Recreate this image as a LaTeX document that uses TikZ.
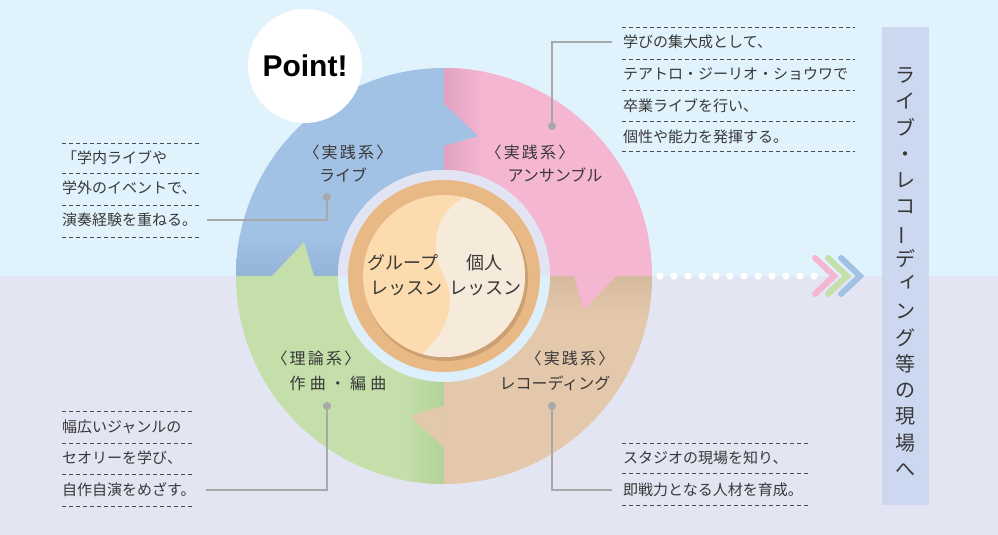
\documentclass[tikz,border=0pt]{standalone}
\usepackage{fontspec}
\setmainfont{Noto Sans CJK JP}
\newfontfamily\pointfont{Liberation Sans}
\usetikzlibrary{calc}
\definecolor{bgTop}{HTML}{E0F2FC}
\definecolor{bgBot}{HTML}{E4E5F3}
\definecolor{qBlue}{HTML}{A1C2E5}
\definecolor{qBlueD}{HTML}{93B3D9}
\definecolor{qPink}{HTML}{F5B6D2}
\definecolor{qPinkD}{HTML}{E0A3C1}
\definecolor{qTan}{HTML}{E3C8AB}
\definecolor{qTanD}{HTML}{D5BA9F}
\definecolor{qGreen}{HTML}{C4DFA9}
\definecolor{qGreenD}{HTML}{B2D299}
\definecolor{haloTop}{HTML}{E3E4F3}
\definecolor{haloBot}{HTML}{DCEFFA}
\definecolor{ringA}{HTML}{E8B885}
\definecolor{peachA}{HTML}{FCDBAE}
\definecolor{creamA}{HTML}{F6EADA}
\definecolor{leadA}{HTML}{A8A8A8}
\definecolor{textA}{HTML}{383838}
\definecolor{tateA}{HTML}{CBD8EF}
\newcommand{\tatebar}{\smash{\rotatebox[origin=c]{90}{ー}}}
\newcommand{\tatesmall}[1]{\hspace*{5pt}\raisebox{5pt}{#1}\hspace*{-5pt}}

\begin{document}
\begin{tikzpicture}[x=1pt, y=1pt, font=\fontsize{15}{18}\selectfont, text=textA,
  lbl/.style={font=\fontsize{16}{19}\selectfont, inner sep=0pt},
  lblw/.style={inner sep=0pt, font=\fontsize{16}{19}\selectfont\addfontfeature{LetterSpace=14}},
  lblx/.style={inner sep=0pt, font=\fontsize{16}{19}\selectfont\addfontfeature{LetterSpace=26}},
  ctr/.style={inner sep=0pt, font=\fontsize{18}{20}\selectfont},
  memo/.style={anchor=west, inner sep=0pt},
  rule/.style={dash pattern=on 4pt off 3pt, black!70, line width=0.8pt},
  lead/.style={leadA, line width=2pt},
  knob/.style={circle, fill=leadA, inner sep=0pt, minimum size=8pt},
  chev/.style={line width=6pt, line cap=round, line join=miter}]
\useasboundingbox (0,0) rectangle (998,535);
\fill[bgTop] (0,258.5) rectangle (998,535);
\fill[bgBot] (0,0) rectangle (998,258.5);

\begin{scope}[shift={(444,259)}]
\foreach \a/\c in {90/qBlue,0/qPink,270/qTan,180/qGreen}
  \fill[\c] (0,0) -- (\a:208) arc (\a:\a+90:208) -- cycle;
\begin{scope}
  \clip (0,0) -- (0:208) arc (0:90:208) -- cycle;
  \shade[left color=qPinkD, right color=qPink] (0,0) rectangle (40,208);
\end{scope}
\begin{scope}
  \clip (0,0) -- (270:208) arc (270:360:208) -- cycle;
  \shade[top color=qTanD, bottom color=qTan] (0,-40) rectangle (208,0);
\end{scope}
\begin{scope}
  \clip (0,0) -- (180:208) arc (180:270:208) -- cycle;
  \shade[left color=qGreen, right color=qGreenD] (-40,-208) rectangle (0,0);
\end{scope}
\begin{scope}
  \clip (0,0) -- (90:208) arc (90:180:208) -- cycle;
  \shade[top color=qBlue, bottom color=qBlueD] (-208,0) rectangle (0,40);
\end{scope}
\foreach \a/\c in {90/qBlue,0/qPink,270/qTan,180/qGreen}
  \fill[\c] (\a:130) -- ($(\a:140)+({\a-90}:34)$) -- (\a:172) -- cycle;

\fill[haloBot] (0,0) circle (106);
\fill[haloTop] (106,0) arc (0:180:106) -- cycle;
\fill[ringA] (0,0) circle (96);
\fill[black, opacity=.12] (2,-3) circle (82);
\fill[peachA] (0,0) circle (81);
\begin{scope}
  \clip (0,0) circle (81);
  \fill[creamA] (19,78) .. controls (-12,60) and (-14,25) .. (0,0)
    .. controls (10,-18) and (10,-50) .. (-21,-77)
    -- (-21,-100) -- (100,-100) -- (100,100) -- (19,100) -- cycle;
\end{scope}
\end{scope}

\node[circle, fill=white, minimum size=114pt, inner sep=0pt, text=black,
  font=\pointfont\fontsize{30}{30}\selectfont\bfseries] (point) at (305,469) {Point!};

\node[lblw] (liveA) at (348,383) {〈実践系〉};
\node[lbl] (liveB) at (343,360) {ライブ};
\node[lblw] (ensA) at (530,383) {〈実践系〉};
\node[lbl] (ensB) at (555,360) {アンサンブル};
\node[lblw] (theoA) at (316,177) {〈理論系〉};
\node[lblx] (theoB) at (338,152) {作曲・編曲};
\node[lblw] (recA) at (570,177) {〈実践系〉};
\node[lbl] (recB) at (555,152) {レコーディング};

\node[ctr] (grpA) at (403,272) {グループ};
\node[ctr] (grpB) at (406,247) {レッスン};
\node[ctr] (solA) at (484,272) {個人};
\node[ctr] (solB) at (485,247) {レッスン};

\foreach \y in {392,362,330,298} \draw[rule] (62,\y) -- (200,\y);
\node[memo] (live1) at (62,377) {「学内ライブや};
\node[memo] (live2) at (62,347) {学外のイベントで、};
\node[memo] (live3) at (62,315) {演奏経験を重ねる。};

\foreach \y in {508,476,445,414,384} \draw[rule] (622,\y) -- (855,\y);
\node[memo] (ens1) at (623,493) {学びの集大成として、};
\node[memo] (ens2) at (623,461) {テアトロ・ジーリオ・ショウワで};
\node[memo] (ens3) at (623,429) {卒業ライブを行い、};
\node[memo] (ens4) at (623,398) {個性や能力を発揮する。};

\foreach \y in {124,92,61,29} \draw[rule] (62,\y) -- (193,\y);
\node[memo] (theo1) at (62,108) {幅広いジャンルの};
\node[memo] (theo2) at (62,77) {セオリーを学び、};
\node[memo] (theo3) at (62,45) {自作自演をめざす。};

\foreach \y in {92,62,30} \draw[rule] (622,\y) -- (810,\y);
\node[memo] (rec1) at (623,77) {スタジオの現場を知り、};
\node[memo] (rec2) at (623,45) {即戦力となる人材を育成。};

\node[knob] (kLive) at (327,338) {};
\node[knob] (kEns) at (552,409) {};
\node[knob] (kTheo) at (327,129) {};
\node[knob] (kRec) at (552,129) {};
\draw[lead] (kLive.center) |- ([xshift=10pt]live3.east);
\draw[lead] (kEns.center) |- ([xshift=-11pt]ens1.west);
\draw[lead] (kTheo.center) |- ([xshift=10pt]theo3.east);
\draw[lead] (kRec.center) |- ([xshift=-11pt]rec2.west);

\foreach \i in {0,...,11} \fill[white] (660+14*\i,259) circle (3.5);
\foreach \x/\c in {815/qPink,828/qGreen,841/qBlue}
  \draw[chev, \c] (\x,277) -- (\x+19,259) -- (\x,241);

\node[fill=tateA, minimum width=47pt, minimum height=478pt, inner sep=0pt] (goal) at (905.5,269) {};
\node[align=center, inner sep=0pt, font=\fontsize{20}{26.25}\selectfont] (goalT) at (905.5,263)
  {ラ\\イ\\ブ\\・\\レ\\コ\\\tatebar\\デ\\\tatesmall{ィ}\\ン\\グ\\等\\の\\現\\場\\へ};
\end{tikzpicture}
\end{document}
